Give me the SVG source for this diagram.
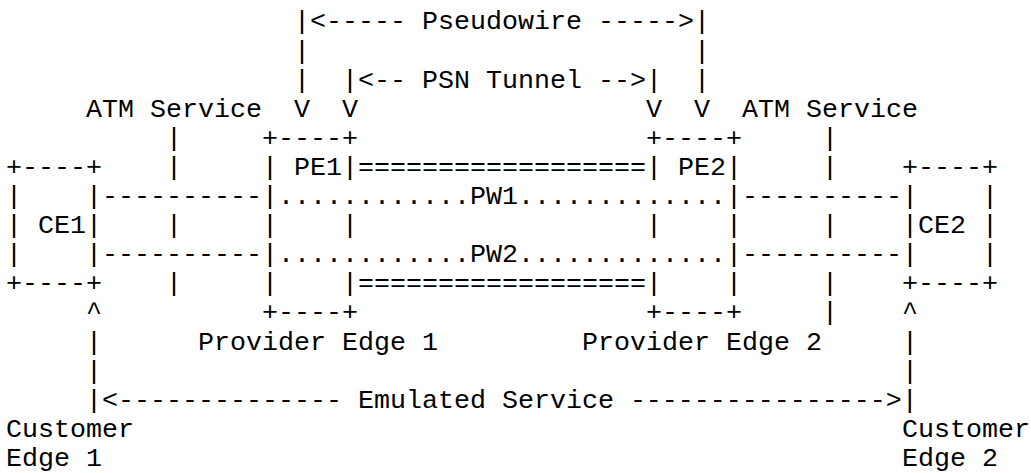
<svg xmlns="http://www.w3.org/2000/svg" width="1031" height="473" viewBox="0 0 1031 473" xml:space="preserve">
<style>
text { font-family: "Liberation Mono", "DejaVu Sans Mono", monospace; font-size: 26.667px; fill: #000; white-space: pre; }
</style>
<rect x="0" y="0" width="1031" height="473" fill="#fff"/>
<g id="ce1">
<text x="6" y="174.9">+----+</text>
<text x="6" y="204.0">|    |</text>
<text x="6" y="233.1">| CE1|</text>
<text x="6" y="262.2">|    |</text>
<text x="6" y="291.3">+----+</text>
</g>
<g id="pe1">
<text x="262" y="145.8">+----+</text>
<text x="262" y="174.9">| PE1|</text>
<text x="262" y="204.0">|</text>
<text x="262" y="233.1">|    |</text>
<text x="262" y="262.2">|</text>
<text x="262" y="291.3">|    |</text>
<text x="262" y="320.4">+----+</text>
</g>
<g id="pe2">
<text x="646" y="145.8">+----+</text>
<text x="646" y="174.9">| PE2|</text>
<text x="726" y="204.0">|</text>
<text x="646" y="233.1">|    |</text>
<text x="726" y="262.2">|</text>
<text x="646" y="291.3">|    |</text>
<text x="646" y="320.4">+----+</text>
</g>
<g id="ce2">
<text x="902" y="174.9">+----+</text>
<text x="902" y="204.0">|    |</text>
<text x="902" y="233.1">|CE2 |</text>
<text x="902" y="262.2">|    |</text>
<text x="902" y="291.3">+----+</text>
</g>
<g id="connectors">
<text x="294" y="29.4">|&lt;----- Pseudowire -----&gt;|</text>
<text x="294" y="58.5">|</text>
<text x="694" y="58.5">|</text>
<text x="294" y="87.6">|</text>
<text x="342" y="87.6">|&lt;-- PSN Tunnel --&gt;|</text>
<text x="694" y="87.6">|</text>
<text x="294" y="116.7">V</text>
<text x="342" y="116.7">V</text>
<text x="646" y="116.7">V</text>
<text x="694" y="116.7">V</text>
<text x="358" y="174.9">==================</text>
<text x="358" y="291.3">==================</text>
<text x="166" y="145.8">|</text>
<text x="166" y="174.9">|</text>
<text x="166" y="233.1">|</text>
<text x="166" y="291.3">|</text>
<text x="822" y="145.8">|</text>
<text x="822" y="174.9">|</text>
<text x="822" y="233.1">|</text>
<text x="822" y="291.3">|</text>
<text x="822" y="320.4">|</text>
<text x="102" y="204.0">----------</text>
<text x="102" y="262.2">----------</text>
<text x="742" y="204.0">----------</text>
<text x="742" y="262.2">----------</text>
<text x="278" y="204.0">............PW1.............</text>
<text x="278" y="262.2">............PW2.............</text>
<text x="86" y="320.4">^</text>
<text x="902" y="320.4">^</text>
<text x="86" y="349.5">|</text>
<text x="902" y="349.5">|</text>
<text x="86" y="378.6">|</text>
<text x="902" y="378.6">|</text>
<text x="86" y="407.7">|&lt;-------------- Emulated Service ----------------&gt;|</text>
</g>
<g id="labels">
<text x="86" y="116.7">ATM Service</text>
<text x="742" y="116.7">ATM Service</text>
<text x="198" y="349.5">Provider Edge 1</text>
<text x="582" y="349.5">Provider Edge 2</text>
<text x="6" y="436.8">Customer</text>
<text x="6" y="465.9">Edge 1</text>
<text x="902" y="436.8">Customer</text>
<text x="902" y="465.9">Edge 2</text>
</g>
</svg>
